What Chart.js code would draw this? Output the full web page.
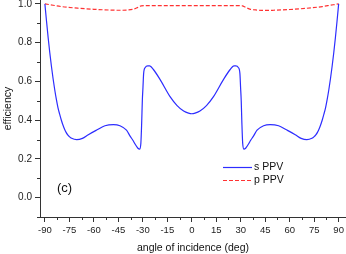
<!DOCTYPE html>
<html>
<head>
<meta charset="utf-8">
<script src="https://cdn.jsdelivr.net/npm/chart.js@4"></script>
<style>
  html, body { margin: 0; padding: 0; background: #fff; }
  #chart { display: block; }
</style>
</head>
<body>
<canvas id="chart" width="346" height="254"></canvas>
<script>
// s polarised efficiency
const sAngles = [-90, -89, -88, -87, -86, -85, -84, -83, -82, -81, -80, -79, -78, -77, -76, -75, -73.6, -70.5, -67, -63.4, -58, -53.2, -48,
                 -44, -40, -37.7, -36, -35, -33, -32, -31.2, -30.7, -30.3, -29.9, -29.5, -28.5, -27, -25.8, -23.4,
                 -19.3, -13.2, -9, -5, -2, 0,
                 2, 5, 9, 13.2, 19.3, 23.4, 25.8, 27, 28.5, 29.5, 29.9, 30.3, 30.7, 31.2, 32, 33, 35, 36, 37.7,
                 40, 44, 48, 53.2, 58, 63.4, 67, 70.5, 73.6, 75, 76, 77, 78, 79, 80, 81, 82, 83, 84, 85, 86, 87, 88, 89, 90];
const sValues = [1.0, 0.91, 0.825, 0.748, 0.678, 0.615, 0.558, 0.508, 0.465, 0.432, 0.402, 0.376, 0.354, 0.337, 0.324, 0.315, 0.306, 0.299, 0.306, 0.325, 0.35, 0.371, 0.377,
                 0.371, 0.348, 0.316, 0.295, 0.28, 0.255, 0.25, 0.28, 0.385, 0.50, 0.57, 0.64, 0.672, 0.68, 0.68, 0.66,
                 0.608, 0.52, 0.475, 0.447, 0.436, 0.433,
                 0.436, 0.447, 0.475, 0.52, 0.608, 0.66, 0.68, 0.68, 0.672, 0.64, 0.57, 0.50, 0.385, 0.28, 0.25, 0.255, 0.28, 0.295, 0.316,
                 0.348, 0.371, 0.377, 0.371, 0.35, 0.325, 0.306, 0.299, 0.306, 0.315, 0.324, 0.337, 0.354, 0.376, 0.402, 0.432, 0.465, 0.508, 0.558, 0.615, 0.678, 0.748, 0.825, 0.91, 1.0];

// p polarised efficiency
const pAngles = [-90, -85, -80, -70, -60, -50, -45, -40, -36, -33, -31, -29, -20, -10, 0, 10, 20, 29, 31, 33, 36, 40, 45, 50, 60, 70, 80, 85, 90];
const pValues = [1.0, 0.993, 0.986, 0.978, 0.972, 0.968, 0.967, 0.968, 0.972, 0.982, 0.99, 0.991, 0.991, 0.991, 0.991,
                 0.991, 0.991, 0.991, 0.99, 0.982, 0.972, 0.968, 0.966, 0.967, 0.971, 0.977, 0.986, 0.993, 1.0];

const xTicks = [-90, -75, -60, -45, -30, -15, 0, 15, 30, 45, 60, 75, 90];
const xLabels = ['-90', '-75', '-60', '-45', '-30', '-15', '0', '15', '30', '45', '60', '75', '90'];
const yTicks = [0.0, 0.2, 0.4, 0.6, 0.8, 1.0];
const yLabels = ['0.0', '0.2', '0.4', '0.6', '0.8', '1.0'];

const FONT = "'Liberation Sans', Arial, sans-serif";
const AXIS = '#333';

function toPoints(xs, ys) {
    return xs.map((x, i) => ({ x: x, y: ys[i] }));
}

function midpoints(arr) {
    let out = [];
    for (let i = 0; i < arr.length - 1; i++) out.push((arr[i] + arr[i + 1]) / 2);
    return out;
}

// minor ticks, legend and panel tag
const extras = {
    id: 'extras',
    afterDraw(chart) {
        const { ctx, chartArea, scales: { x, y } } = chart;
        ctx.save();
        ctx.strokeStyle = AXIS;
        ctx.lineWidth = 1;
        ctx.beginPath();
        midpoints(xTicks).forEach((v) => {
            const px = Math.round(x.getPixelForValue(v)) + 0.5;
            ctx.moveTo(px, chartArea.bottom);
            ctx.lineTo(px, chartArea.bottom + 3);
        });
        midpoints([-0.2].concat(yTicks)).forEach((v) => {
            if (v < -0.1) return;
            const py = Math.round(y.getPixelForValue(v)) + 0.5;
            ctx.moveTo(chartArea.left, py);
            ctx.lineTo(chartArea.left - 3, py);
        });
        ctx.stroke();

        // legend
        ctx.font = '10.5px ' + FONT;
        ctx.textBaseline = 'middle';
        ctx.fillStyle = '#111';
        chart.data.datasets.forEach((ds, i) => {
            const ly = 167.5 + i * 13;
            ctx.strokeStyle = ds.borderColor;
            ctx.lineWidth = ds.borderWidth;
            ctx.setLineDash(ds.borderDash || []);
            ctx.beginPath();
            ctx.moveTo(223, ly);
            ctx.lineTo(252, ly);
            ctx.stroke();
            ctx.setLineDash([]);
            ctx.fillText(ds.label, 254, ly);
        });

        ctx.font = '13px ' + FONT;
        ctx.fillText('(c)', 57, 188);
        ctx.restore();
    }
};

new Chart(document.getElementById('chart'), {
    type: 'line',
    data: {
        datasets: [
            {
                label: 's PPV',
                data: toPoints(sAngles, sValues),
                borderColor: 'rgb(45, 45, 255)',
                borderWidth: 1.2,
                cubicInterpolationMode: 'monotone',
                fill: false
            },
            {
                label: 'p PPV',
                data: toPoints(pAngles, pValues),
                borderColor: 'rgb(255, 50, 50)',
                borderWidth: 1.2,
                borderDash: [4, 2],
                cubicInterpolationMode: 'monotone',
                fill: false
            }
        ]
    },
    options: {
        responsive: false,
        animation: false,
        layout: { padding: 0 },
        elements: { point: { radius: 0 } },
        plugins: { legend: { display: false }, tooltip: { enabled: false } },
        scales: {
            x: {
                type: 'linear',
                min: -93,
                max: 94.5,
                afterBuildTicks: (s) => { s.ticks = xTicks.map((v) => ({ value: v })); },
                afterFit: (s) => { s.height = 37; s.paddingLeft = 0; s.paddingRight = 0; },
                grid: { drawOnChartArea: false, tickLength: 5, tickColor: AXIS },
                border: { color: AXIS, width: 1 },
                ticks: {
                    font: { family: FONT, size: 9.5 },
                    color: '#222',
                    padding: 3,
                    maxRotation: 0,
                    autoSkip: false,
                    callback: (v, i) => xLabels[i]
                },
                title: {
                    display: true,
                    text: 'angle of incidence (deg)',
                    color: '#111',
                    font: { family: FONT, size: 10.5 },
                    padding: { top: 2, bottom: 0 }
                }
            },
            y: {
                type: 'linear',
                min: -0.1,
                max: 1.02,
                afterBuildTicks: (s) => { s.ticks = yTicks.map((v) => ({ value: v })); },
                afterFit: (s) => { s.width = 40; s.paddingTop = 0; s.paddingBottom = 0; },
                grid: { drawOnChartArea: false, tickLength: 5, tickColor: AXIS },
                border: { color: AXIS, width: 1 },
                ticks: {
                    font: { family: FONT, size: 10 },
                    color: '#222',
                    padding: 3,
                    callback: (v, i) => yLabels[i]
                },
                title: {
                    display: true,
                    text: 'efficiency',
                    color: '#111',
                    font: { family: FONT, size: 10.5 },
                    padding: { top: 2, bottom: 0 }
                }
            }
        }
    },
    plugins: [extras]
});
</script>
</body>
</html>
